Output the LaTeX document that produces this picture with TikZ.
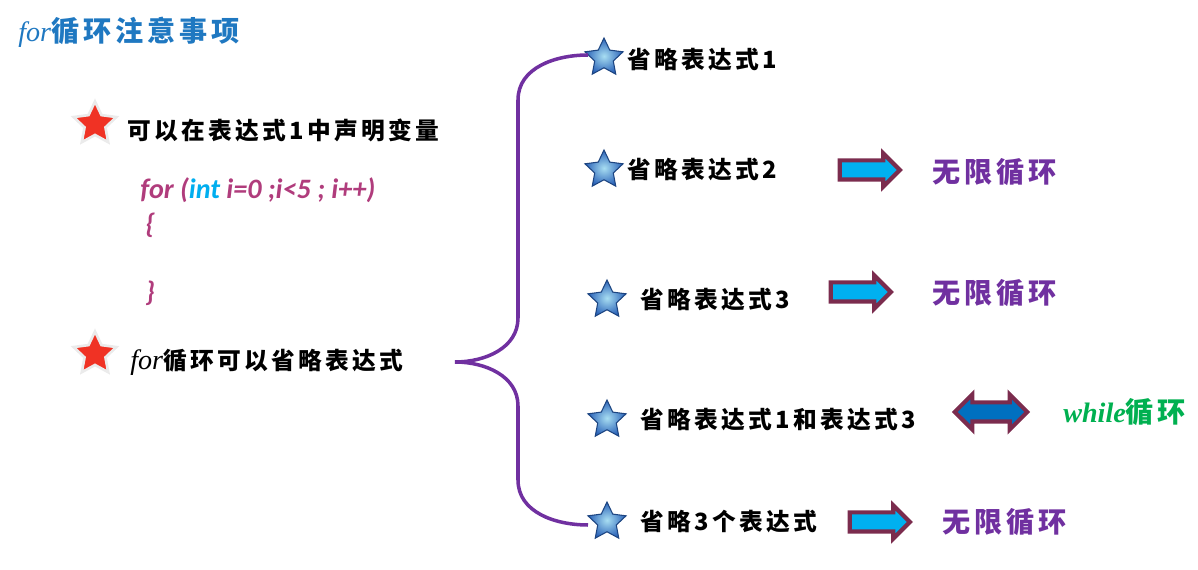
\documentclass[tikz,border=0pt]{standalone}
\usepackage{fontspec}
\setmainfont{Carlito}
\newfontfamily\cjk{Noto Sans CJK SC}[LetterSpace=14]
\newfontfamily\ital{Liberation Serif}
\usepackage{xcolor}
\definecolor{titleblue}{HTML}{1F78C1}
\definecolor{codepink}{HTML}{B03C7C}
\definecolor{intcyan}{HTML}{00AEEF}
\definecolor{bracepurple}{HTML}{7030A0}
\definecolor{loopgreen}{HTML}{00B050}
\definecolor{starred}{HTML}{F03224}
\definecolor{starlight}{HTML}{A8DEF2}
\definecolor{starblue}{HTML}{2A62B8}
\definecolor{arrowcyan}{HTML}{00B0F0}
\definecolor{arrowdark}{HTML}{0070C0}
\definecolor{arrowedge}{HTML}{7B2C4E}
\usetikzlibrary{shapes.geometric,shapes.arrows,positioning}

\begin{document}
\begin{tikzpicture}[x=0.02cm, y=-0.02cm,
    txt/.style={anchor=west, inner sep=0pt, font=\cjk\bfseries\fontsize{13.5}{16}\selectfont},
    code/.style={anchor=west, inner sep=0pt, text=codepink, font=\fontsize{16}{18}\selectfont\bfseries\itshape},
    result/.style={anchor=west, inner sep=0pt, text=bracepurple, font=\cjk\bfseries\fontsize{16}{18}\selectfont},
    redstar/.style={star, star points=5, star point ratio=2.05, minimum size=0.9cm, inner sep=0pt, fill=starred, draw=black!8, line width=1.5pt},
    bluestar/.style={star, star points=5, star point ratio=2.05, minimum size=0.8cm, inner sep=0pt, inner color=starlight, outer color=starblue, draw=starblue!70!black, line width=0.6pt},
    goarrow/.style={single arrow, fill=arrowcyan, draw=arrowedge, line width=2.4pt, inner xsep=0pt, inner ysep=0.15cm, minimum height=1.2cm, single arrow head extend=0.14cm},
    botharrow/.style={double arrow, fill=arrowdark, draw=arrowedge, line width=2.4pt, inner xsep=0pt, inner ysep=0.15cm, minimum height=1.45cm, double arrow head extend=0.16cm},
    brace/.style={draw=bracepurple, line width=2pt}
  ]
  \useasboundingbox (0,0) rectangle (1198,570);

  \node[anchor=west, inner sep=0pt, text=titleblue, font=\bfseries\fontsize{16}{18}\selectfont] (title) at (18,32) {{\ital\itshape\mdseries for}{\cjk\bfseries 循环注意事项}};

  % left column
  \node[redstar] (rs1) at (95,124) {};
  \node[txt] (decl) at (127,130) {可以在表达式1中声明变量};
  \node[code] (line1) at (140,190) {for (\textcolor{intcyan}{int} i=0 ;i<5 ; i++)};
  \node[code] (open) at (145,225) {\{};
  \node[code] (close) at (145,293) {\}};
  \node[redstar] (rs2) at (95,354) {};
  \node[txt] (omit) at (130,362) {{\ital\itshape\mdseries\fontsize{16}{18}\selectfont for}循环可以省略表达式};

  % right column
  \node[bluestar] (s1) at (604,58) {};
  \node[bluestar] (s2) at (604,170) {};
  \node[bluestar] (s3) at (607,300) {};
  \node[bluestar] (s4) at (607,420) {};
  \node[bluestar] (s5) at (607,522) {};
  \node[txt] (o1) at (627,60) {省略表达式1};
  \node[txt] (o2) at (627,170) {省略表达式2};
  \node[txt] (o3) at (640,300) {省略表达式3};
  \node[txt] (o4) at (640,420) {省略表达式1和表达式3};
  \node[txt] (o5) at (640,522) {省略3个表达式};

  \node[goarrow] (a2) at (865,170) {};
  \node[goarrow] (a3) at (856,292) {};
  \node[botharrow] (a4) at (991,412) {};
  \node[goarrow] (a5) at (875,522) {};

  \node[result] (r2) at (932,172) {无限循环};
  \node[result] (r3) at (932,293) {无限循环};
  \node[result, text=loopgreen] (r4) at (1063,412) {{\ital\bfseries\itshape while}循环};
  \node[result] (r5) at (942,522) {无限循环};

  % brace
  \coordinate (tip) at (455,362);
  \coordinate (top) at (588,55);
  \coordinate (bot) at (588,525);
  \draw[brace] (tip) to[out=0,in=-90] (518,318) -- (518,100) to[out=90,in=180] (top);
  \draw[brace] (tip) to[out=0,in=90] (518,406) -- (518,480) to[out=-90,in=180] (bot);
\end{tikzpicture}
\end{document}
